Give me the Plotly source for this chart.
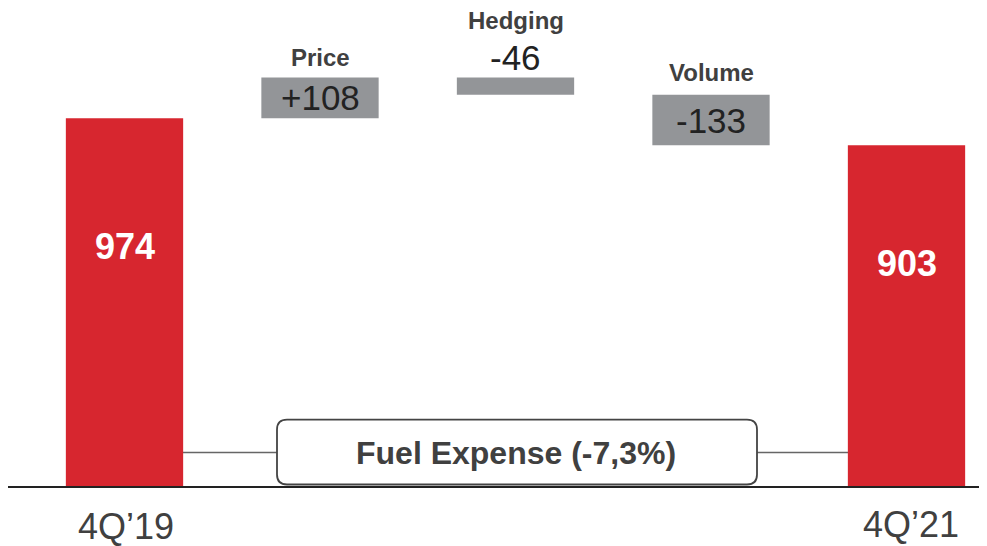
import plotly.graph_objects as go

# ---- data ----
categories = ["4Q’19", "Price", "Hedging", "Volume", "4Q’21"]
values = [974, 108, -46, -133, 903]
measures = ["absolute", "relative", "relative", "relative", "total"]
tick_labels = ["4Q’19", "4Q’21"]
box_label = "Fuel Expense (-7,3%)"

RED = "#D7262F"
GREY = "#939598"
TXT = "#404040"
FONT = "Liberation Sans, Arial, sans-serif"

# the page body adds an 8px margin; figure sized to fill the rest of the window
OFF = 8
W, H = 987 - OFF, 546 - OFF
BASE_Y = 487.5 - OFF
BOTTOM = H - BASE_Y
PLOT_H = H - BOTTOM
PX_PER_UNIT = 0.3789
SPACING = 195.5
X0 = 124.5 - OFF

xs = list(range(len(categories)))

fig = go.Figure(go.Waterfall(
    x=xs, y=values, measure=measures,
    width=0.6,
    connector=dict(visible=False),
    totals=dict(marker=dict(color=RED, line=dict(width=0))),
    increasing=dict(marker=dict(color=GREY, line=dict(width=0))),
    decreasing=dict(marker=dict(color=GREY, line=dict(width=0))),
    hoverinfo="skip",
))

# cumulative levels
levels = []
running = 0
for v, m in zip(values, measures):
    if m == "absolute":
        start, end = 0, v
        running = v
    elif m == "total":
        start, end = 0, running
    else:
        start, end = running, running + v
        running += v
    levels.append((start, end))

ann = []
# values inside red bars
for i in (0, len(values) - 1):
    top = levels[i][1]
    ann.append(dict(x=xs[i], y=top * 0.653, text=f"<b>{top}</b>", showarrow=False,
                    font=dict(family=FONT, size=36, color="white"), yanchor="middle"))

# intermediate bars
name_shift = {1: 19.5, 2: 57, 3: 22.5}
for i in range(1, len(values) - 1):
    s, e = levels[i]
    top = max(s, e)
    txt = f"{values[i]:+d}"
    if i == 2:
        ann.append(dict(x=xs[i], y=top, yshift=19.5, text=txt, showarrow=False,
                        font=dict(family=FONT, size=35, color="#222222"), yanchor="middle"))
    else:
        ann.append(dict(x=xs[i], y=(s + e) / 2, text=txt, showarrow=False,
                        font=dict(family=FONT, size=35, color="#222222"), yanchor="middle"))
    ann.append(dict(x=xs[i], y=top, yshift=name_shift[i], text=f"<b>{categories[i]}</b>",
                    showarrow=False, font=dict(family=FONT, size=24, color=TXT), yanchor="middle"))

# axis category labels
ann.append(dict(x=xs[0], xshift=1.5, y=0, yshift=-39.5, text=tick_labels[0], showarrow=False,
                font=dict(family=FONT, size=36, color=TXT), yanchor="middle"))
ann.append(dict(x=xs[-1], xshift=4.5, y=0, yshift=-37, text=tick_labels[1], showarrow=False,
                font=dict(family=FONT, size=36, color=TXT), yanchor="middle"))


def px(xp):
    return (xp - OFF) / W


def py(yp):
    return (PLOT_H - (yp - OFF)) / PLOT_H


ann.append(dict(xref="paper", yref="paper", x=px(516.5), y=py(453), text=f"<b>{box_label}</b>",
                showarrow=False, font=dict(family=FONT, size=32, color=TXT), yanchor="middle"))


def rounded_rect(x0, y0, x1, y1, r):
    rx, ry = r / W, r / PLOT_H
    X0p, X1p = px(x0), px(x1)
    Yt, Yb = py(y0), py(y1)
    return (f"M {X0p+rx},{Yt} L {X1p-rx},{Yt} Q {X1p},{Yt} {X1p},{Yt-ry} "
            f"L {X1p},{Yb+ry} Q {X1p},{Yb} {X1p-rx},{Yb} "
            f"L {X0p+rx},{Yb} Q {X0p},{Yb} {X0p},{Yb+ry} "
            f"L {X0p},{Yt-ry} Q {X0p},{Yt} {X0p+rx},{Yt} Z")


shapes = [
    dict(type="line", xref="paper", yref="paper", x0=px(183), x1=px(848), y0=py(453), y1=py(453),
         line=dict(color="#666666", width=1.5), layer="below"),
    dict(type="path", xref="paper", yref="paper", path=rounded_rect(277, 420, 757, 485, 10),
         fillcolor="white", line=dict(color="#444444", width=1.8)),
    dict(type="line", xref="paper", yref="paper", x0=0, x1=1, y0=0, y1=0,
         line=dict(color="#222222", width=2)),
]

fig.update_layout(
    width=W, height=H,
    margin=dict(l=0, r=0, t=0, b=BOTTOM, pad=0),
    paper_bgcolor="white", plot_bgcolor="white",
    showlegend=False,
    xaxis=dict(range=[-X0 / SPACING, (W - X0) / SPACING], showgrid=False, zeroline=False,
               showticklabels=False, showline=False, fixedrange=True),
    yaxis=dict(range=[0, PLOT_H / PX_PER_UNIT], showgrid=False, zeroline=False,
               showticklabels=False, showline=False, fixedrange=True),
    annotations=ann,
    shapes=shapes,
)

fig.write_html("out.html", config={"displayModeBar": False})
